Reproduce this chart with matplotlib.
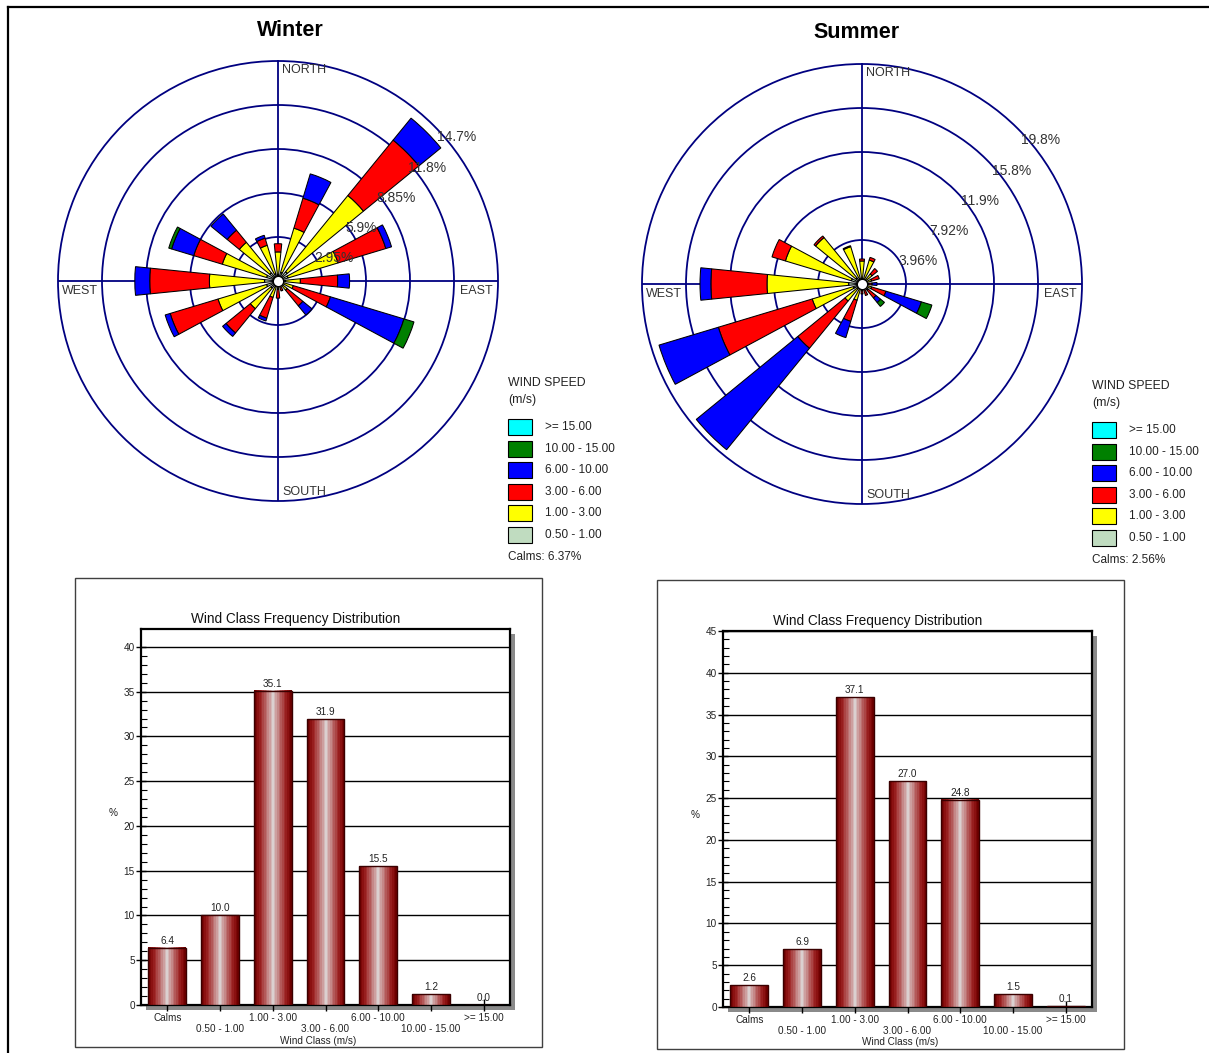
import numpy as np
import matplotlib
matplotlib.use('Agg')
import matplotlib.pyplot as plt
from matplotlib.patches import Rectangle
from matplotlib.lines import Line2D
from matplotlib.colors import LinearSegmentedColormap
from matplotlib.transforms import blended_transform_factory
from matplotlib import font_manager

W, H = 1209, 1053
plt.rcParams['font.family'] = ['Liberation Sans', 'DejaVu Sans']

_names = {f.name for f in font_manager.fontManager.ttflist}
if 'Liberation Sans Narrow' in _names:
    COND = ['Liberation Sans Narrow', 'Liberation Sans']
    CS = 1.0
else:
    COND = ['Liberation Sans', 'DejaVu Sans']
    CS = 0.84

# ---------------- data ----------------
directions = ['N', 'NNE', 'NE', 'ENE', 'E', 'ESE', 'SE', 'SSE',
              'S', 'SSW', 'SW', 'WSW', 'W', 'WNW', 'NW', 'NNW']
dir_deg = [0, 22.5, 45, 67.5, 90, 112.5, 135, 157.5,
           180, 202.5, 225, 247.5, 270, 292.5, 315, 337.5]

speed_classes = ['0.50 - 1.00', '1.00 - 3.00', '3.00 - 6.00',
                 '6.00 - 10.00', '10.00 - 15.00', '>= 15.00']
speed_colors = ['#c0dcc0', '#ffff00', '#ff0000', '#0000ff', '#008000', '#00ffff']

# Winter rose (% per direction and speed class)
winter_050_100 = [0.4, 0.6, 0.8, 0.7, 0.5, 0.4, 0.35, 0.2, 0.3, 0.4, 0.6, 0.8, 0.9, 0.8, 0.7, 0.5]
winter_100_300 = [1.55, 3.1, 6.6, 3.5, 1.0, 0.67, 0.45, 0.2, 0.25, 0.75, 1.8, 3.4, 3.7, 3.1, 2.65, 2.0]
winter_300_600 = [0.55, 2.1, 4.8, 3.35, 2.5, 2.6, 1.35, 0.3, 0.6, 1.45, 2.1, 3.35, 4.0, 2.0, 1.05, 0.5]
winter_600_1000 = [0, 1.7, 1.9, 0.4, 0.8, 5.15, 0.8, 0, 0, 0.2, 0.3, 0.35, 1.0, 1.55, 1.4, 0.2]
winter_1000_1500 = [0, 0, 0, 0, 0, 0.7, 0, 0, 0, 0, 0, 0, 0, 0.2, 0, 0]
winter_ge_1500 = [0] * 16
winter_rings = [2.95, 5.9, 8.85, 11.8, 14.75]
winter_ring_labels = ['2.95%', '5.9%', '8.85%', '11.8%', '14.7%']
winter_calms = 'Calms: 6.37%'

# Summer rose
summer_050_100 = [0.3, 0.3, 0.25, 0.2, 0.15, 0.25, 0.2, 0.15, 0.15, 0.35, 0.5, 0.8, 1.2, 1.0, 0.7, 0.5]
summer_100_300 = [1.77, 1.95, 0.92, 0.7, 0.39, 0.65, 0.52, 0.39, 0.39, 1.18, 1.48, 3.88, 7.35, 6.2, 4.7, 3.01]
summer_300_600 = [0.18, 0.25, 0.63, 0.72, 0.36, 1.35, 0.9, 0.54, 0.36, 1.98, 5.49, 8.82, 5.05, 1.26, 0.18, 0.09]
summer_600_1000 = [0, 0, 0, 0, 0.45, 3.33, 0.54, 0, 0, 1.53, 11.79, 5.58, 0.98, 0, 0, 0]
summer_1000_1500 = [0, 0, 0, 0, 0, 0.99, 0.45, 0, 0, 0, 0, 0, 0, 0, 0, 0]
summer_ge_1500 = [0] * 16
summer_rings = [3.96, 7.92, 11.88, 15.84, 19.8]
summer_ring_labels = ['3.96%', '7.92%', '11.9%', '15.8%', '19.8%']
summer_calms = 'Calms: 2.56%'

# Frequency distribution bars
wind_classes = ['Calms', '0.50 - 1.00', '1.00 - 3.00', '3.00 - 6.00',
                '6.00 - 10.00', '10.00 - 15.00', '>= 15.00']
winter_freq = [6.4, 10.0, 35.1, 31.9, 15.5, 1.2, 0.0]
summer_freq = [2.6, 6.9, 37.1, 27.0, 24.8, 1.5, 0.1]

# ---------------- figure ----------------
fig = plt.figure(figsize=(W / 100, H / 100), dpi=100)
fig.patch.set_facecolor('white')


def T(x, y, s, **kw):
    return fig.text(x / W, 1 - y / H, s, **kw)


def frect(x0, y0, w, h, **kw):
    r = Rectangle((x0 / W, 1 - (y0 + h) / H), w / W, h / H,
                  transform=fig.transFigure, **kw)
    fig.add_artist(r)
    return r


# outer frame (top and left)
fig.add_artist(Line2D([8 / W, 1.0], [1 - 7 / H, 1 - 7 / H], color='black', lw=1.6,
                      transform=fig.transFigure))
fig.add_artist(Line2D([8 / W, 8 / W], [1 - 7 / H, 0], color='black', lw=1.6,
                      transform=fig.transFigure))

NAVY = '#000080'


def draw_rose(cx, cy, R, segs, rings, ring_labels, title, title_x, title_y,
              leg_x, leg_y, calms):
    ax = fig.add_axes([(cx - R) / W, 1 - (cy + R) / H, 2 * R / W, 2 * R / H],
                      projection='polar')
    ax.set_theta_zero_location('N')
    ax.set_theta_direction(-1)
    ax.set_ylim(0, rings[-1])
    ax.set_rgrids(rings[:-1], labels=[''] * (len(rings) - 1))
    ax.set_thetagrids([0, 90, 180, 270], labels=[''] * 4)
    ax.grid(True, color=NAVY, lw=1.3, ls='-')
    ax.spines['polar'].set_color(NAVY)
    ax.spines['polar'].set_linewidth(1.3)
    ax.set_axisbelow(True)
    theta = np.deg2rad(dir_deg)
    width = np.deg2rad(11.5)
    bottom = np.zeros(len(dir_deg))
    for vals, col in zip(segs, speed_colors):
        vals = np.asarray(vals, dtype=float)
        m = vals > 0
        if m.any():
            ax.bar(theta[m], vals[m], width=width, bottom=bottom[m], color=col,
                   edgecolor='black', linewidth=0.75, zorder=3)
        bottom = bottom + vals
    ax.scatter([0], [0], s=55, c='white', edgecolors='black', linewidths=0.9,
               zorder=6, clip_on=False)
    angs = [58, 52, 50, 49, 48]
    for r, lab, a in zip(rings, ring_labels, angs):
        ax.text(np.deg2rad(a), r * 0.975, lab, ha='left', va='center',
                fontsize=10, color='#333333', zorder=7)
    # compass labels
    ck = dict(fontsize=9, color='#333333', va='center', ha='left')
    T(cx + 4, cy - 211, 'NORTH', **ck)
    T(cx + 4, cy + 211, 'SOUTH', **ck)
    T(cx + 182, cy + 10, 'EAST', **ck)
    T(cx - 216, cy + 10, 'WEST', **ck)
    T(title_x, title_y, title, fontsize=15.5, fontweight='bold', ha='center',
      va='center', color='black')
    # legend
    T(leg_x, leg_y, 'WIND SPEED', fontsize=8.8, va='center', ha='left', color='#222222')
    T(leg_x, leg_y + 17, '(m/s)', fontsize=8.8, va='center', ha='left', color='#222222')
    for k, idx in enumerate(range(len(speed_classes) - 1, -1, -1)):
        yy = leg_y + 44 + k * 21.6
        frect(leg_x, yy - 8, 24, 16, facecolor=speed_colors[idx],
              edgecolor='black', lw=0.8)
        T(leg_x + 37, yy, speed_classes[idx], fontsize=8.5, va='center',
          ha='left', color='#222222')
    T(leg_x, leg_y + 174, calms, fontsize=8.5, va='center', ha='left', color='#222222')
    return ax


draw_rose(278, 281, 220,
          [winter_050_100, winter_100_300, winter_300_600, winter_600_1000,
           winter_1000_1500, winter_ge_1500],
          winter_rings, winter_ring_labels, 'Winter', 290, 31, 508, 383, winter_calms)
draw_rose(862, 284, 220,
          [summer_050_100, summer_100_300, summer_300_600, summer_600_1000,
           summer_1000_1500, summer_ge_1500],
          summer_rings, summer_ring_labels, 'Summer', 857, 32, 1092, 386, summer_calms)

cyl_cmap = LinearSegmentedColormap.from_list(
    'cyl', ['#6e0000', '#8a1010', '#a02828', '#b05050', '#c07878', '#cfa4a4',
            '#dcd2d2', '#cfa4a4', '#c07878', '#b05050', '#a02828', '#8a1010', '#6e0000'])
grad = np.linspace(0, 1, 23)[None, :]


def draw_bars(frame, plot, freqs, ymax, ytop, title_xy, pct_xy, xlabel_xy):
    fx0, fy0, fx1, fy1 = frame
    frect(fx0, fy0, fx1 - fx0, fy1 - fy0, facecolor='none', edgecolor='#404040', lw=1.0)
    L, Tp, Rr, B = plot
    pw, ph = Rr - L, B - Tp
    frect(L + 5, Tp + 5, pw, ph, facecolor='#8a8a8a', edgecolor='none', zorder=-1)
    ax = fig.add_axes([L / W, 1 - B / H, pw / W, ph / H])
    x = np.arange(len(wind_classes))
    bars = ax.bar(x, freqs, width=0.72, facecolor='none', edgecolor='#3a0000',
                  linewidth=1.0, zorder=4)
    for rect, v in zip(bars, freqs):
        if v <= 0:
            continue
        ax.imshow(grad, extent=[rect.get_x(), rect.get_x() + rect.get_width(), 0, v],
                  aspect='auto', cmap=cyl_cmap, zorder=3, interpolation='nearest')
    ax.set_xlim(-0.5, len(wind_classes) - 0.5)
    ax.set_ylim(0, ymax)
    for yv in range(5, ytop + 1, 5):
        ax.axhline(yv, color='black', lw=1.0, zorder=1)
    for s in ax.spines.values():
        s.set_linewidth(1.6)
        s.set_color('black')
    lab_fs = 8 if CS == 1.0 else 7.2
    ax.set_yticks(np.arange(0, ytop + 1, 5))
    ax.set_yticks(np.arange(0, ytop + 1, 1), minor=True)
    ax.set_yticklabels([str(v) for v in range(0, ytop + 1, 5)],
                       fontsize=lab_fs, family=COND, color='#222222')
    ax.tick_params(axis='y', which='major', direction='inout', length=7, width=1, pad=1)
    ax.tick_params(axis='y', which='minor', direction='in', length=4, width=0.8)
    ax.set_xticks(x)
    ax.set_xticklabels([])
    ax.tick_params(axis='x', which='major', direction='inout', length=8, width=1)
    bt = blended_transform_factory(ax.transData, ax.transAxes)
    for i, c in enumerate(wind_classes):
        off = 13 if i % 2 == 0 else 24
        ax.text(i, -off / ph, c, transform=bt, ha='center', va='center',
                fontsize=lab_fs, family=COND, color='#222222', clip_on=False)
    for i, v in enumerate(freqs):
        ax.annotate(f'{v:.1f}', (i, v), xytext=(0, 1.5), textcoords='offset points',
                    ha='center', va='bottom', fontsize=lab_fs, family=COND,
                    color='#222222', zorder=6)
    T(title_xy[0], title_xy[1], 'Wind Class Frequency Distribution',
      fontsize=11.5 if CS == 1.0 else 9.8, family=COND, ha='center', va='center',
      color='#111111')
    T(pct_xy[0], pct_xy[1], '%', fontsize=lab_fs, family=COND, ha='center', va='center',
      color='#222222')
    T(xlabel_xy[0], xlabel_xy[1], 'Wind Class (m/s)', fontsize=lab_fs, family=COND,
      ha='center', va='center', color='#222222')
    return ax


draw_bars((75, 578, 542, 1047), (141, 629, 510, 1005), winter_freq, 42, 40,
          (296, 619), (113, 813), (318, 1041))
draw_bars((657, 580, 1124, 1049), (723, 631, 1092, 1007), summer_freq, 45, 45,
          (878, 621), (695, 815), (900, 1042))

fig.savefig('out.png', dpi=100, facecolor='white')
